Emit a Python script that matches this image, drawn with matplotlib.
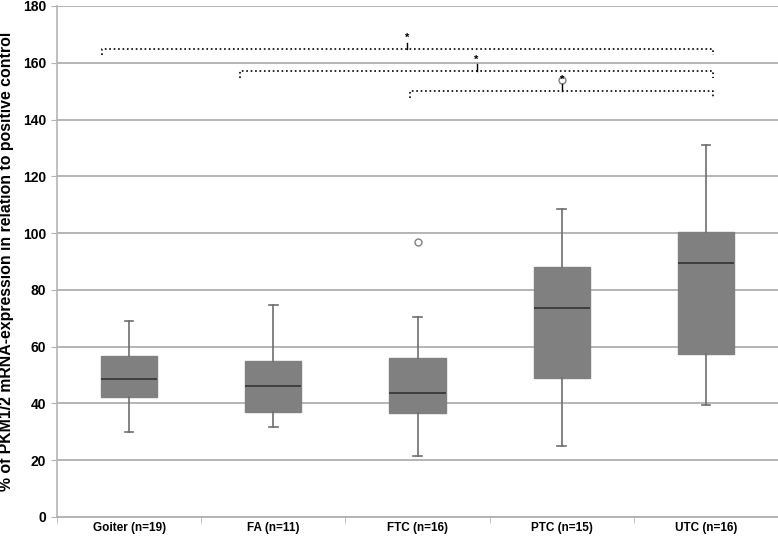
import matplotlib
matplotlib.use("Agg")
import matplotlib.pyplot as plt

plt.rcParams['font.family'] = ['Liberation Sans', 'DejaVu Sans']

categories = ["Goiter (n=19)", "FA (n=11)", "FTC (n=16)", "PTC (n=15)", "UTC (n=16)"]
whisker_low = [30.0, 31.6, 21.6, 25.1, 39.5]
q1 = [42.2, 37.0, 36.5, 49.0, 57.3]
median = [48.5, 46.1, 43.5, 73.5, 89.5]
q3 = [56.8, 54.9, 56.0, 88.0, 100.5]
whisker_high = [69.0, 74.7, 70.5, 108.5, 131.0]
outliers = [[], [], [96.9], [153.8], []]

# significance brackets: (left x, right x, bar height, end height)
br_left = [-0.19, 0.77, 1.95]
br_right = [4.05, 4.05, 4.05]
br_top = [164.9, 157.2, 150.2]
br_end = [162.6, 154.5, 147.6]
br_label = ["*", "*", "*"]

yticks = list(range(0, 181, 20))

fig = plt.figure(figsize=(7.78, 5.43), dpi=100)
ax = fig.add_axes([0.0733, 0.048, 0.9267, 0.941])

stats = []
for i in range(len(categories)):
    stats.append(dict(med=median[i], q1=q1[i], q3=q3[i],
                      whislo=whisker_low[i], whishi=whisker_high[i],
                      fliers=outliers[i], label=categories[i]))

ax.bxp(stats, positions=range(len(categories)), widths=0.39, patch_artist=True,
       boxprops=dict(facecolor='#808080', edgecolor='#808080', linewidth=1),
       medianprops=dict(color='#3a3a3a', linewidth=1.3),
       whiskerprops=dict(color='#6e6e6e', linewidth=1.2),
       capprops=dict(color='#6e6e6e', linewidth=1.2),
       capwidths=0.06,
       flierprops=dict(marker='o', markerfacecolor='white', markeredgecolor='#808080',
                       markersize=5, linestyle='none'))

ax.set_xlim(-0.5, 4.5)
ax.set_ylim(0, 180)
ax.set_yticks(yticks)
ax.set_yticklabels([str(v) for v in yticks], fontsize=10, fontweight='bold')
ax.yaxis.grid(True, color='#b4b4b4', linewidth=1.4)
ax.set_axisbelow(True)

ax.set_xticks(range(len(categories)))
ax.set_xticklabels(categories, fontsize=8.5, fontweight='bold')
ax.tick_params(axis='x', length=0, pad=4)
ax.set_xticks([i + 0.5 for i in range(-1, len(categories))], minor=True)
ax.tick_params(axis='x', which='minor', length=4, color='#b4b4b4')
ax.tick_params(axis='y', length=4, color='#b4b4b4', pad=4)

for s in ['top', 'right']:
    ax.spines[s].set_visible(False)
ax.spines['left'].set_color('#b4b4b4')
ax.spines['bottom'].set_color('#b4b4b4')
ax.spines['left'].set_linewidth(1.2)
ax.spines['bottom'].set_linewidth(1.4)

ax.set_ylabel("% of PKM1/2 mRNA-expression in relation to positive control",
              fontsize=11.4, fontweight='bold', labelpad=6)

for l, r, t, e, lab in zip(br_left, br_right, br_top, br_end, br_label):
    ax.plot([l, l, r, r], [e, t, t, e], color='black', linestyle=':', linewidth=1.2)
    m = (l + r) / 2
    ax.plot([m, m], [t, t + 2.2], color='black', linewidth=1)
    ax.text(m, t + 2.0, lab, ha='center', va='bottom', fontsize=8, fontweight='bold')

fig.savefig("out.png", dpi=100)
